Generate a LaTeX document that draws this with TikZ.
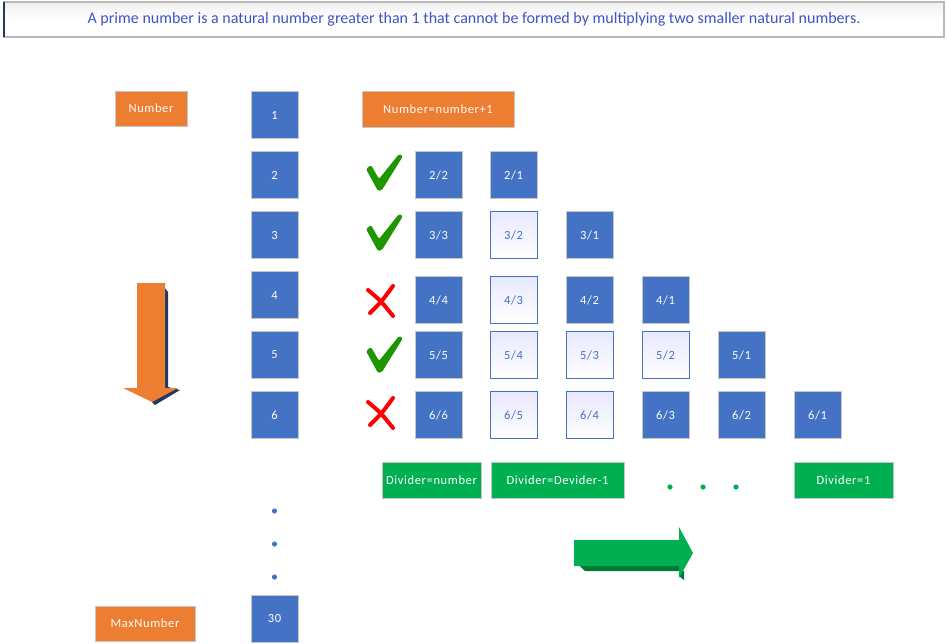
\documentclass[tikz,border=0pt]{standalone}
\usepackage{fontspec}
\setmainfont{Carlito}
\newfontfamily\boxfont[LetterSpace=5]{Carlito}
\usepackage{xcolor}
\usepackage{tikz}

\definecolor{boxblue}{RGB}{68,114,196}
\definecolor{boxorange}{RGB}{237,125,49}
\definecolor{boxgreen}{RGB}{0,176,80}
\definecolor{darkgreen}{RGB}{0,120,55}
\definecolor{navy}{RGB}{32,56,100}
\definecolor{titleblue}{RGB}{63,84,196}
\definecolor{markred}{RGB}{255,0,0}
\definecolor{markgreen}{RGB}{30,150,0}

\tikzset{
  numbox/.style={draw=gray!45,line width=0.8pt,fill=boxblue,text=white,
    minimum width=47pt,minimum height=47pt,inner sep=0pt,font=\boxfont\fontsize{12.5}{14}\selectfont},
  hollowbox/.style={numbox,draw=boxblue,text=boxblue,top color=blue!9!white,bottom color=white},
  orangebox/.style={draw=gray!45,line width=0.8pt,fill=boxorange,text=white,
    minimum height=35pt,inner sep=0pt,font=\boxfont\fontsize{12.5}{14}\selectfont},
  greenbox/.style={orangebox,fill=boxgreen,minimum height=36pt},
  okmark/.pic={
    \fill[markgreen,rounded corners=1.5pt] (-17,-5) -- (-12,-9) -- (-4,5) -- (16,-20)
      -- (20,-18) -- (-1,16) -- (-5,17) -- cycle;
  },
  nomark/.pic={
    \draw[markred,line width=4pt,line cap=round] (-15,-11) .. controls (-2,0) .. (10,15);
    \draw[markred,line width=4pt,line cap=round] (10,-15) .. controls (-1,0) .. (-13,12);
  }
}

\begin{document}
\begin{tikzpicture}[x=1pt,y=-1pt]
\useasboundingbox (0,0) rectangle (947,643);

\draw[gray!55,line width=1.5pt,top color=gray!12,bottom color=white,middle color=white] (4,2) rectangle (944,37);
\draw[navy,line width=2pt] (4,2) -- (4,37);
\node (title) at (474,19) [text=titleblue,font=\fontsize{16}{18}\selectfont]
  {A prime number is a natural number greater than 1 that cannot be formed by multiplying two smaller natural numbers.};

\node (number) at (151,108.5) [orangebox,minimum width=72pt] {Number};
\node (maxnumber) at (145,623.5) [orangebox,minimum width=100pt] {MaxNumber};
\node (increment) at (438,109) [orangebox,minimum width=152pt,minimum height=36pt] {Number=number+1};

\foreach \n in {1,...,6}
  \node (n\n) at (274.5,55+60*\n) [numbox] {\n};
\node (n30) at (274.5,618.5) [numbox] {30};
\foreach \y in {511,544,577}
  \fill[boxblue] (274.5,\y) circle (2.6);

\node (d22) at (438.5,175) [numbox] {2/2};
\node (d21) at (513.5,175) [numbox] {2/1};

\node (d33) at (438.5,235) [numbox] {3/3};
\node (d32) at (513.5,235) [hollowbox] {3/2};
\node (d31) at (589.5,235) [numbox] {3/1};

\node (d44) at (438.5,300) [numbox] {4/4};
\node (d43) at (513.5,300) [hollowbox] {4/3};
\node (d42) at (589.5,300) [numbox] {4/2};
\node (d41) at (665.5,300) [numbox] {4/1};

\node (d55) at (438.5,355) [numbox] {5/5};
\node (d54) at (513.5,355) [hollowbox] {5/4};
\node (d53) at (589.5,355) [hollowbox] {5/3};
\node (d52) at (665.5,355) [hollowbox] {5/2};
\node (d51) at (741.5,355) [numbox] {5/1};

\node (d66) at (438.5,415) [numbox] {6/6};
\node (d65) at (513.5,415) [hollowbox] {6/5};
\node (d64) at (589.5,415) [hollowbox] {6/4};
\node (d63) at (665.5,415) [numbox] {6/3};
\node (d62) at (741.5,415) [numbox] {6/2};
\node (d61) at (817.5,415) [numbox] {6/1};

\pic at (383,174) {okmark};
\pic at (383,234) {okmark};
\pic at (383,301) {nomark};
\pic at (383,356) {okmark};
\pic at (383,413) {nomark};

\node (start) at (431.5,480) [greenbox,minimum width=99pt] {Divider=number};
\node (step) at (557.5,480) [greenbox,minimum width=133pt] {Divider=Devider-1};
\node (last) at (843.5,480) [greenbox,minimum width=99pt] {Divider=1};
\foreach \x in {670,703,736}
  \fill[boxgreen] (\x,487) circle (2.6);

% orange arrow down
\fill[navy] (165,288) -- (168,292) -- (168,387) -- (180,390) -- (155,405) -- (152,402) -- cycle;
\fill[boxorange] (137,283) -- (165,283) -- (165,388) -- (178,388) -- (152,402) -- (123,388) -- (137,388) -- cycle;

% green arrow right
\fill[darkgreen] (580,566) -- (679,566) -- (679,576) -- (684,580) -- (684,571) -- (585,571) -- cycle;
\fill[boxgreen] (574,540) -- (679,540) -- (679,527) -- (693,553) -- (679,578) -- (679,566) -- (574,566) -- cycle;
\end{tikzpicture}
\end{document}
